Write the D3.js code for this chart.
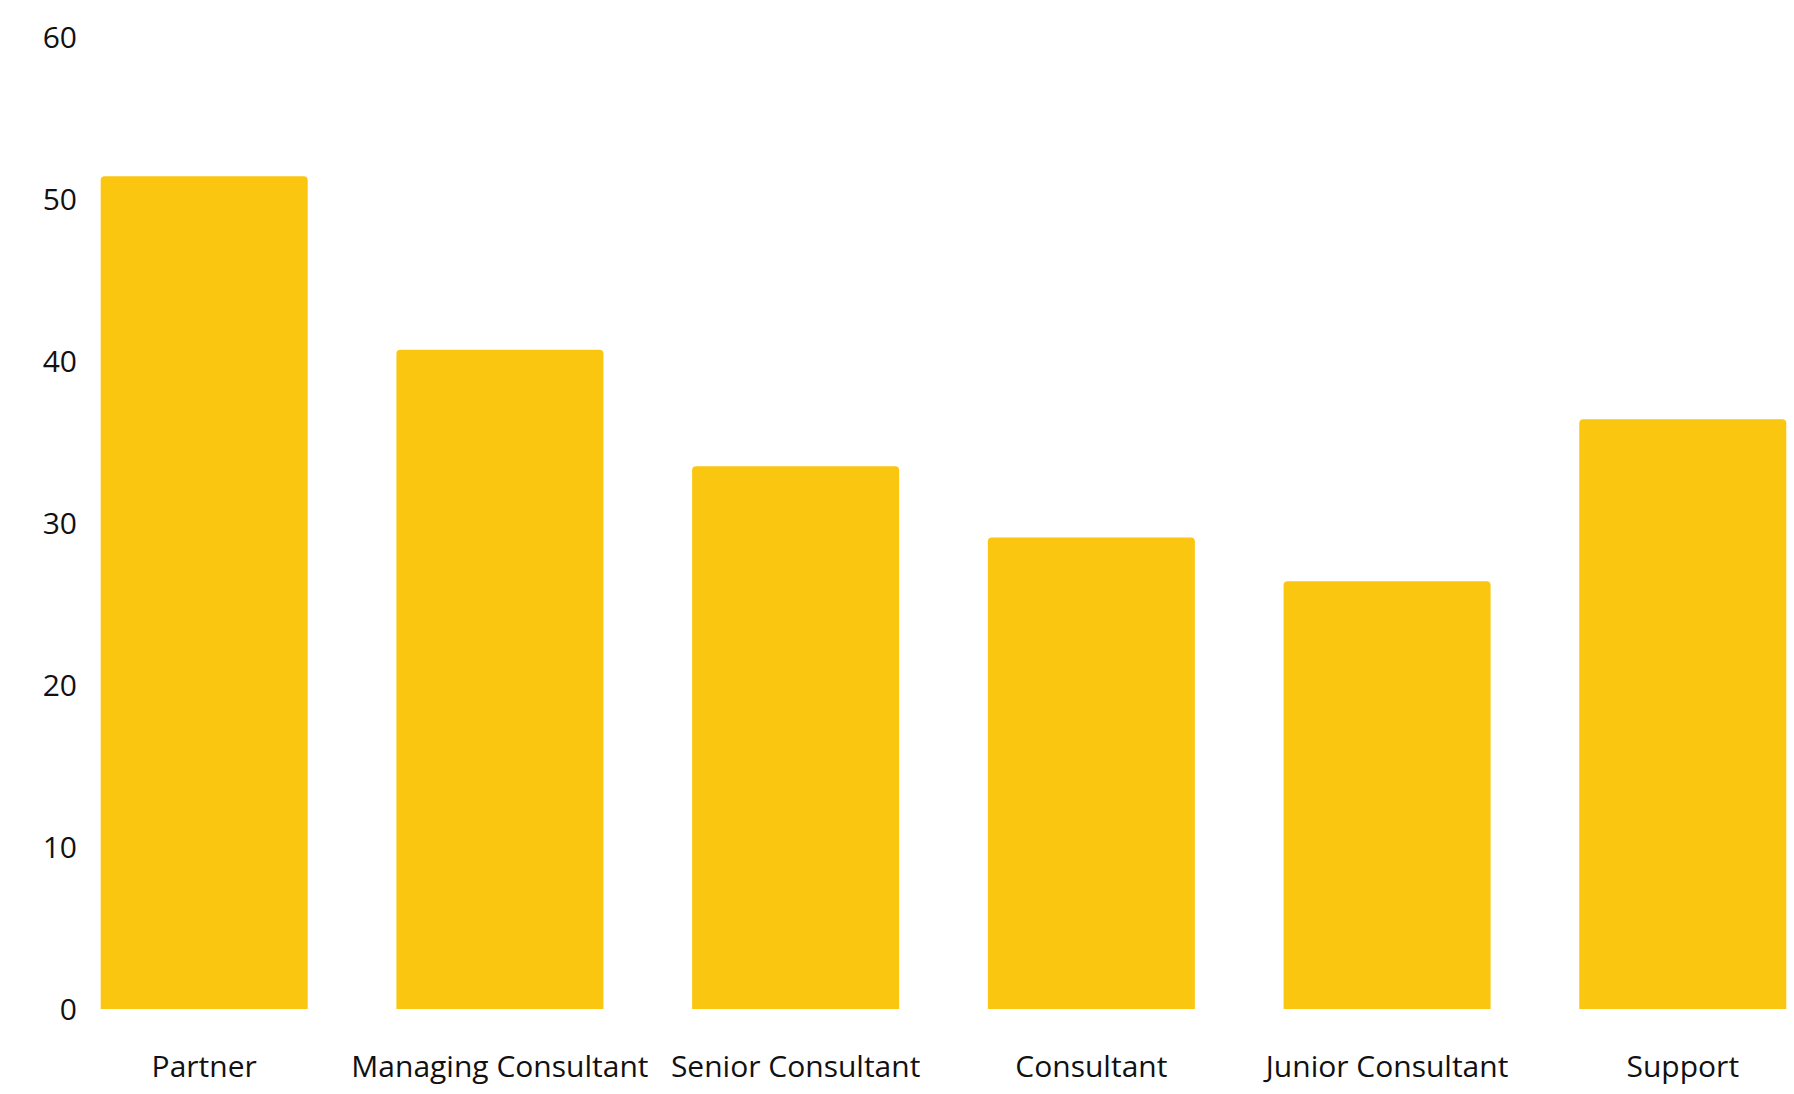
<!DOCTYPE html>
<html>
<head>
<meta charset="utf-8">
<script src="https://cdn.jsdelivr.net/npm/d3@7"></script>
<style>
  html, body { margin: 0; padding: 0; background: #ffffff; }
  svg { display: block; }
  text { font-family: "Open Sans", "Noto Sans", sans-serif; fill: #111111; }
</style>
</head>
<body>
<svg id="chart" width="1794" height="1094"></svg>
<script>
// Headcount-style values per role
const categories = ["Partner", "Managing Consultant", "Senior Consultant", "Consultant", "Junior Consultant", "Support"];
const values = [51.4, 40.7, 33.5, 29.1, 26.4, 36.4];
const yTicks = [0, 10, 20, 30, 40, 50, 60];

const svg = d3.select("#chart");

const x = d3.scaleBand()
  .domain(categories)
  .range([100.7, 1786.3])
  .paddingInner(0.3)
  .paddingOuter(0);

const y = d3.scaleLinear()
  .domain([0, 60])
  .range([1009, 37]);

const barColor = "#FAC60F";
const r = 4;

// Bars with rounded top corners only
function barPath(x0, y0, w, h) {
  const rr = Math.min(r, h, w / 2);
  return `M${x0},${y0 + h}` +
    `V${y0 + rr}` +
    `Q${x0},${y0} ${x0 + rr},${y0}` +
    `H${x0 + w - rr}` +
    `Q${x0 + w},${y0} ${x0 + w},${y0 + rr}` +
    `V${y0 + h}Z`;
}

svg.append("g")
  .selectAll("path")
  .data(categories.map((c, i) => ({ c, v: values[i] })))
  .join("path")
  .attr("fill", barColor)
  .attr("d", d => barPath(x(d.c), y(d.v), x.bandwidth(), y(0) - y(d.v)));

// Y axis: labels only
const yAxis = d3.axisLeft(y)
  .tickValues(yTicks)
  .tickSize(0)
  .tickPadding(0);

const gy = svg.append("g")
  .attr("transform", "translate(77,0)")
  .call(yAxis);
gy.select(".domain").remove();
gy.selectAll("text")
  .attr("font-size", 30)
  .attr("font-weight", 500)
  .attr("font-family", "\"Open Sans\", sans-serif")
  .attr("fill", "#111111")
  .attr("dy", "0.36em");

// X axis: category labels only
const xAxis = d3.axisBottom(x)
  .tickSize(0)
  .tickPadding(0);

const gx = svg.append("g")
  .attr("transform", "translate(0,1077)")
  .call(xAxis);
gx.select(".domain").remove();
gx.selectAll("text")
  .attr("font-size", 30)
  .attr("font-weight", 500)
  .attr("font-family", "\"Open Sans\", sans-serif")
  .attr("fill", "#111111")
  .attr("dy", 0)
  .attr("y", 0);
</script>
</body>
</html>
